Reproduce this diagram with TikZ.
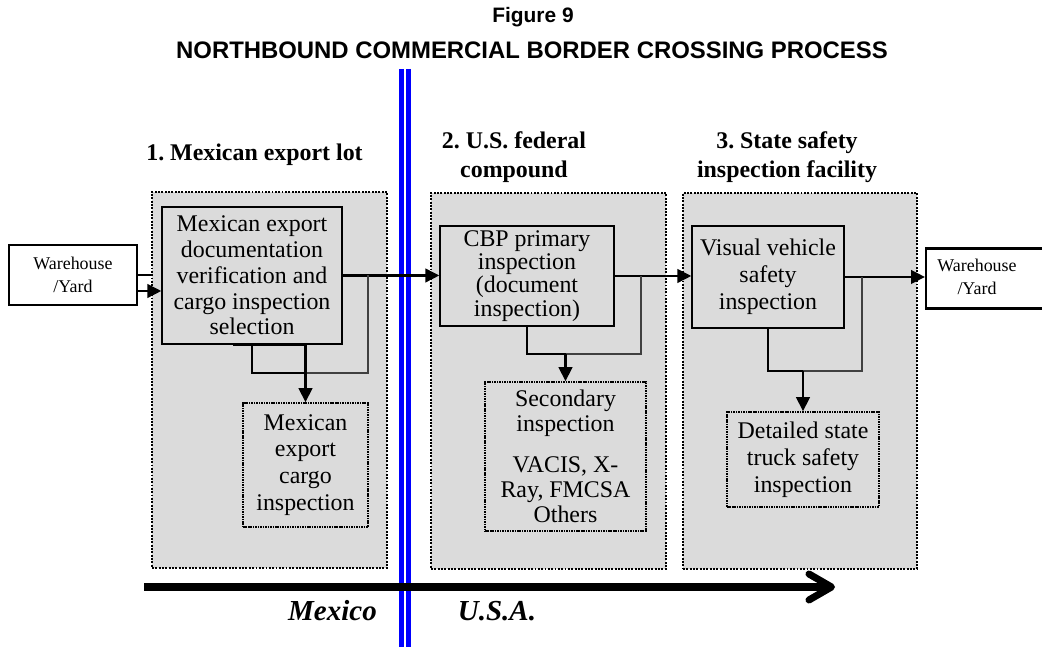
\documentclass[tikz,border=0pt]{standalone}
\usepackage{fontspec}
\setmainfont{Liberation Serif}
\setsansfont{Liberation Sans}
\usetikzlibrary{arrows.meta}
\frenchspacing

\begin{document}
\begin{tikzpicture}[
  font=\fontsize{13.6}{14.7}\selectfont,
  area/.style={draw=black, fill=black!14, line width=1.3pt,
               dash pattern=on 1.1pt off 0.8pt, inner sep=0pt},
  blocco/.style={draw=black, fill=black!14, line width=0.75pt, align=center,
                 inner sep=0pt},
  sottoblocco/.style={blocco, line width=0.9pt, dash pattern=on 0.9pt off 0.5pt},
  deposito/.style={draw=black, fill=white, line width=1.3pt, align=center,
                   inner sep=0pt, minimum height=1.2cm,
                   font=\fontsize{10.2}{13}\selectfont},
  intestazione/.style={font=\bfseries\fontsize{13.6}{16.4}\selectfont, align=center},
  paese/.style={font=\bfseries\itshape\fontsize{16.5}{19}\selectfont},
  flusso/.style={draw=black, line width=1.5pt, -{Triangle[length=2.8mm,width=2.7mm]}},
  ramo/.style={draw=black, line width=1.5pt},
  ritorno/.style={draw=black!75, line width=0.6pt},
  confine/.style={draw=blue, line width=2.5pt},
  asse/.style={draw=black, line width=4pt,
               -{Straight Barb[length=4.5mm,width=5.2mm,round]}}
]

\useasboundingbox (0,0) rectangle (20.84,12.94);

% ---- titolo -----------------------------------------------------------
\node[font=\sffamily\bfseries\fontsize{11.9}{14}\selectfont] (fignum) at (10.66,12.60) {Figure 9};
\node[font=\sffamily\bfseries\fontsize{13.6}{16}\selectfont] (titolo) at (10.64,11.94)
  {NORTHBOUND COMMERCIAL BORDER CROSSING PROCESS};

% ---- aree grigie delle tre fasi ------------------------------------------
\node[area, minimum width=4.70cm, minimum height=7.52cm] (lot)      at (5.39,5.34) {};
\node[area, minimum width=4.70cm, minimum height=7.52cm] (compound) at (10.97,5.32) {};
\node[area, minimum width=4.68cm, minimum height=7.52cm] (facility) at (16.00,5.32) {};

\node[intestazione] (h1) at (5.09,9.84)  {1. Mexican export lot};
\node[intestazione] (h2) at (10.28,9.79) {2. U.S. federal\\compound};
\node[intestazione] (h3) at (15.74,9.79) {3. State safety\\inspection facility};

% ---- confine (doppia linea blu) ---------------------------------------
\draw[confine] (8.03,11.56) -- (8.03,-0.2);
\draw[confine] (8.17,11.56) -- (8.17,-0.2);

% ---- blocchi -----------------------------------------------------------
\node[deposito, minimum width=2.56cm] (yard1) at (1.46,7.44) {Warehouse\\/Yard};
\node[deposito, minimum width=3cm, anchor=west] (yard2) at (18.50,7.37) {};
\node[font=\fontsize{10.2}{13}\selectfont, align=center] (yard2txt) at (19.54,7.41) {Warehouse\\/Yard};

\node[blocco, minimum width=3.60cm, minimum height=2.74cm] (mexdoc) at (5.04,7.43)
  {Mexican export\\documentation\\verification and\\cargo inspection\\selection};
\node[blocco, minimum width=3.48cm, minimum height=2.00cm,
      font=\fontsize{13.6}{13.2}\selectfont] (cbp) at (10.54,7.42)
  {CBP primary\\inspection\\(document\\inspection)};
\node[blocco, minimum width=3.04cm, minimum height=2.04cm,
      font=\fontsize{13.6}{15.3}\selectfont] (visual) at (15.36,7.40)
  {Visual vehicle\\safety\\inspection};

\node[sottoblocco, minimum width=2.50cm, minimum height=2.48cm,
      font=\fontsize{13.6}{15.3}\selectfont] (mexcargo) at (6.11,3.64)
  {Mexican\\export\\cargo\\inspection};
\node[sottoblocco, minimum width=3.22cm, minimum height=2.98cm,
      font=\fontsize{13.6}{14.2}\selectfont] (secondary) at (11.31,3.81)
  {Secondary\\inspection\\[9pt]VACIS, X-\\Ray, FMCSA\\Others};
\node[sottoblocco, minimum width=3.04cm, minimum height=1.90cm,
      font=\fontsize{13.6}{15.3}\selectfont] (statetruck) at (16.06,3.75)
  {Detailed state\\truck safety\\inspection};

% ---- collegamenti principali ---------------------------------------------
\draw[ramo]   (yard1.east) -- (yard1.east -| lot.west);
\draw[flusso] ([yshift=-0.32cm]yard1.east) -- ([yshift=-0.32cm]yard1.east -| mexdoc.west);
\draw[flusso] (mexdoc.east) -- (mexdoc.east -| cbp.west);
\draw[flusso] (cbp.east) -- (cbp.east -| visual.west);
\draw[flusso] (visual.east) -- (visual.east -| yard2.west);

% ---- diramazioni verso i controlli secondari -----------------------------
\coordinate (g1) at (mexcargo.north |- 0,5.48);
\draw[ritorno] (mexdoc.east -| 7.36,0) |- (g1);
\draw[ramo]    (mexdoc.south) |- (g1);
\draw[ramo]    (mexdoc.south -| 4.66,0) -- (mexdoc.south -| mexcargo.north);
\draw[flusso]  (mexdoc.south -| mexcargo.north) -- (mexcargo.north);

\coordinate (g2) at (secondary.north |- 0,5.86);
\draw[ritorno] (cbp.east -| 12.82,0) |- (g2);
\draw[ramo]    (cbp.south) |- (g2);
\draw[flusso]  (g2) -- (secondary.north);

\coordinate (g3) at (statetruck.north |- 0,5.52);
\draw[ritorno] (visual.east -| 17.24,0) |- (g3);
\draw[ramo]    (visual.south) |- (g3);
\draw[flusso]  (g3) -- (statetruck.north);

% ---- asse Messico -> USA -------------------------------------------------
\coordinate (asse0) at (2.88,1.20);
\coordinate (asse1) at (16.70,1.20);
\draw[asse] (asse0) -- (asse1);

\node[paese] (mexico) at (6.65,0.72) {Mexico};
\node[paese] (usa)    at (9.94,0.72) {U.S.A.};

\end{tikzpicture}
\end{document}
